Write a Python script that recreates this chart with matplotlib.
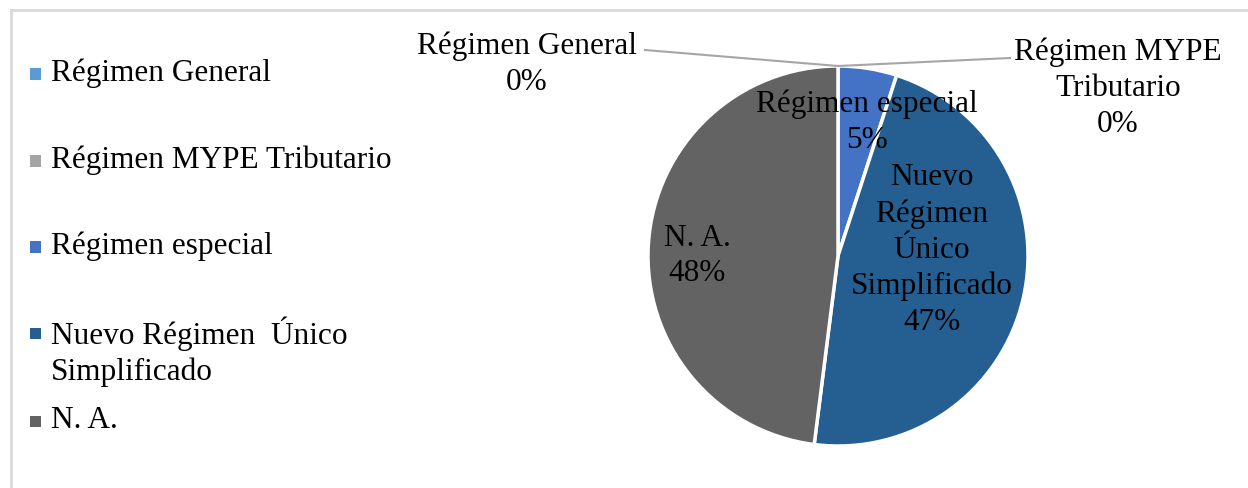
import matplotlib.pyplot as plt
from matplotlib.lines import Line2D
from matplotlib.patches import Rectangle

plt.rcParams['font.family'] = ['Liberation Serif', 'DejaVu Serif']

# Régimen tributario de las empresas (porcentaje)
CATEGORIES = ['Régimen General', 'Régimen MYPE Tributario', 'Régimen especial',
              'Nuevo Régimen  Único Simplificado', 'N. A.']
LEGEND_LABELS = ['Régimen General', 'Régimen MYPE Tributario', 'Régimen especial',
                 'Nuevo Régimen  Único\nSimplificado', 'N. A.']
SLICE_LABELS = ['Régimen General', 'Régimen MYPE\nTributario', 'Régimen especial',
                'Nuevo\nRégimen\nÚnico\nSimplificado', 'N. A.']
VALUES = [0, 0, 5, 47, 48]
COLORS = ['#5B9BD5', '#A5A5A5', '#4472C4', '#255E91', '#636363']

W, H = 1248, 488
FS = 22.5
LS = 1.31


def fpx(x, y):
    """Pixel position (from top-left) -> figure fraction."""
    return x / W, 1 - y / H


fig = plt.figure(figsize=(W / 100, H / 100), dpi=100)

# chart-area border (only top and left edges are visible)
fig.add_artist(Line2D([fpx(11, 0)[0], 1], [fpx(0, 10)[1]] * 2,
                      transform=fig.transFigure, color='#D9D9D9', lw=2))
fig.add_artist(Line2D([fpx(11, 0)[0]] * 2, [fpx(0, 10)[1], 0],
                      transform=fig.transFigure, color='#D9D9D9', lw=2))

# pie: centre at (838, 256) px, radius 190 px -> 1 data unit = 190 px
cx, cy, r = 838, 256, 190
ax = fig.add_axes([0, 0, 1, 1])
wedges, _ = ax.pie(VALUES, colors=COLORS, startangle=90, counterclock=False,
                   wedgeprops=dict(edgecolor='white', linewidth=2.5))
ax.set_xlim(-cx / r, (W - cx) / r)
ax.set_ylim((cy - H) / r, cy / r)
ax.set_aspect('equal', adjustable='datalim')
ax.axis('off')


def d(x, y):
    return (x - cx) / r, (cy - y) / r


pcts = [f'{v}%' for v in VALUES]
label_pos = [(527, 64), (1118, 88), (867, 122), (932, 250), (697, 256)]
for lab, pct, (x, y) in zip(SLICE_LABELS, pcts, label_pos):
    ax.text(*d(x, y), f'{lab}\n{pct}', ha='center', va='center',
            fontsize=FS, color='black', linespacing=LS)

# leader lines for the 0% slices
for end in [(645, 50), (1010, 58)]:
    ax.plot([d(*end)[0], 0], [d(*end)[1], 1], color='#A6A6A6', lw=1.5)

# legend on the left
legend_y = [73, 160, 246, 352, 420]
marker_y = [74, 161, 247, 333, 421]
for lab, col, y, my in zip(LEGEND_LABELS, COLORS, legend_y, marker_y):
    x0, y0 = fpx(30, my + 5.5)
    fig.add_artist(Rectangle((x0, y0), 11 / W, 11 / H, transform=fig.transFigure,
                             facecolor=col, edgecolor='none'))
    fig.text(*fpx(51, y), lab, ha='left', va='center', fontsize=FS,
             linespacing=LS)

fig.savefig('out.png', dpi=100)
